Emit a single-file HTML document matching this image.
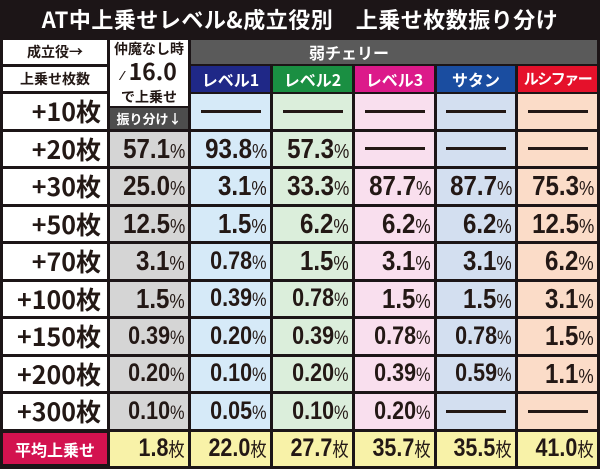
<!DOCTYPE html>
<html><head><meta charset="utf-8"><style>
*{margin:0;padding:0;box-sizing:border-box}
body{width:600px;height:469px;background:#1c1517;position:relative;overflow:hidden;font-family:"Liberation Sans","Noto Sans CJK JP",sans-serif}
.a{position:absolute}
.title{left:0;top:0;width:600px;height:38px;color:#fff;font-weight:bold;font-size:22px;line-height:38px;text-align:center;letter-spacing:0.5px;font-family:"Noto Sans CJK JP",sans-serif}
.c{position:absolute;height:34.5px;display:flex;align-items:center;justify-content:flex-end;padding-right:3px;color:#231815;font-weight:bold}
.lab{background:#fff;font-size:25px;padding-right:6px;font-family:"Noto Sans CJK JP",sans-serif;font-weight:bold}
.n{display:inline-block;font-size:28px;transform:scaleX(0.86);transform-origin:right center;white-space:nowrap}
.n small{font-size:20px;font-weight:normal}
.n.s{font-size:25px}
.n.s small{font-size:19px}
.dash{justify-content:center;padding:0}
.dash i{display:block;width:60px;height:3px;background:#231815}
.g{background:#d5d5d5}.b{background:#d6eaf8}.gr{background:#dbeedb}.p{background:#f9dfee}.lb{background:#d3dff0}.pe{background:#fbdcc8}.y{background:#f8f2a8}
.h{position:absolute;top:66px;height:26px;color:#fff;font-size:16px;font-weight:bold;text-align:center;line-height:26px;font-family:"Noto Sans CJK JP",sans-serif;white-space:nowrap;overflow:hidden}
</style></head><body>
<div class="a title">AT中上乗せレベル&amp;成立役別　上乗せ枚数振り分け</div>

<div class="a" style="left:3px;top:40px;width:104px;height:24px;background:#fff;font-size:14px;font-weight:bold;text-align:center;line-height:24px;font-family:'Noto Sans CJK JP',sans-serif;color:#231815">成立役→</div>
<div class="a" style="left:3px;top:67px;width:104px;height:24px;background:#fff;font-size:14px;font-weight:bold;text-align:center;line-height:24px;font-family:'Noto Sans CJK JP',sans-serif;color:#231815">上乗せ枚数</div>
<div class="a" style="left:110px;top:40px;width:78px;height:66px;background:#fff;color:#231815;text-align:center;font-family:'Noto Sans CJK JP',sans-serif;font-weight:bold">
<div style="font-size:14px;line-height:18px">仲魔なし時</div>
<div style="font-size:23px;line-height:24px"><span style="font-size:13px">⁄</span> 16.0</div>
<div style="font-size:14px;line-height:20px">で上乗せ</div></div>
<div class="a" style="left:110px;top:108px;width:78px;height:21px;background:#4d4d4d;color:#fff;font-size:13px;font-weight:bold;line-height:21px;text-align:center;font-family:'Noto Sans CJK JP',sans-serif">振り分け↓</div>

<div class="a" style="left:191px;top:40px;width:406px;height:24px;background:#5a5a5a;color:#fff;font-size:16px;font-weight:bold;line-height:24px;padding-left:118px;font-family:'Noto Sans CJK JP',sans-serif">弱チェリー</div>
<div class="h" style="left:191px;width:79px;background:#1f2887">レベル1</div>
<div class="h" style="left:273px;width:79px;background:#1a8f42">レベル2</div>
<div class="h" style="left:355px;width:79px;background:#dc1a8a">レベル3</div>
<div class="h" style="left:437px;width:78px;background:#1a4da0">サタン</div>
<div class="h" style="left:518px;width:79px;background:#e5112b;letter-spacing:-1.5px;font-size:15px">ルシファー</div>

<div class="c lab" style="left:3px;top:94px;width:104px">+10枚</div>
<div class="c dash b" style="left:191px;top:94px;width:79px"><i></i></div>
<div class="c dash gr" style="left:273px;top:94px;width:79px"><i></i></div>
<div class="c dash p" style="left:355px;top:94px;width:79px"><i></i></div>
<div class="c dash lb" style="left:437px;top:94px;width:78px"><i></i></div>
<div class="c dash pe" style="left:518px;top:94px;width:79px"><i></i></div>

<div class="c lab" style="left:3px;top:131.5px;width:104px">+20枚</div>
<div class="c g" style="left:110px;top:131.5px;width:78px"><span class="n">57.1<small>%</small></span></div>
<div class="c b" style="left:191px;top:131.5px;width:79px"><span class="n">93.8<small>%</small></span></div>
<div class="c gr" style="left:273px;top:131.5px;width:79px"><span class="n">57.3<small>%</small></span></div>
<div class="c dash p" style="left:355px;top:131.5px;width:79px"><i></i></div>
<div class="c dash lb" style="left:437px;top:131.5px;width:78px"><i></i></div>
<div class="c dash pe" style="left:518px;top:131.5px;width:79px"><i></i></div>

<div class="c lab" style="left:3px;top:169px;width:104px">+30枚</div>
<div class="c g" style="left:110px;top:169px;width:78px"><span class="n">25.0<small>%</small></span></div>
<div class="c b" style="left:191px;top:169px;width:79px"><span class="n">3.1<small>%</small></span></div>
<div class="c gr" style="left:273px;top:169px;width:79px"><span class="n">33.3<small>%</small></span></div>
<div class="c p" style="left:355px;top:169px;width:79px"><span class="n">87.7<small>%</small></span></div>
<div class="c lb" style="left:437px;top:169px;width:78px"><span class="n">87.7<small>%</small></span></div>
<div class="c pe" style="left:518px;top:169px;width:79px"><span class="n">75.3<small>%</small></span></div>

<div class="c lab" style="left:3px;top:206.5px;width:104px">+50枚</div>
<div class="c g" style="left:110px;top:206.5px;width:78px"><span class="n">12.5<small>%</small></span></div>
<div class="c b" style="left:191px;top:206.5px;width:79px"><span class="n">1.5<small>%</small></span></div>
<div class="c gr" style="left:273px;top:206.5px;width:79px"><span class="n">6.2<small>%</small></span></div>
<div class="c p" style="left:355px;top:206.5px;width:79px"><span class="n">6.2<small>%</small></span></div>
<div class="c lb" style="left:437px;top:206.5px;width:78px"><span class="n">6.2<small>%</small></span></div>
<div class="c pe" style="left:518px;top:206.5px;width:79px"><span class="n">12.5<small>%</small></span></div>

<div class="c lab" style="left:3px;top:244px;width:104px">+70枚</div>
<div class="c g" style="left:110px;top:244px;width:78px"><span class="n">3.1<small>%</small></span></div>
<div class="c b" style="left:191px;top:244px;width:79px"><span class="n s">0.78<small>%</small></span></div>
<div class="c gr" style="left:273px;top:244px;width:79px"><span class="n">1.5<small>%</small></span></div>
<div class="c p" style="left:355px;top:244px;width:79px"><span class="n">3.1<small>%</small></span></div>
<div class="c lb" style="left:437px;top:244px;width:78px"><span class="n">3.1<small>%</small></span></div>
<div class="c pe" style="left:518px;top:244px;width:79px"><span class="n">6.2<small>%</small></span></div>

<div class="c lab" style="left:3px;top:281.5px;width:104px">+100枚</div>
<div class="c g" style="left:110px;top:281.5px;width:78px"><span class="n">1.5<small>%</small></span></div>
<div class="c b" style="left:191px;top:281.5px;width:79px"><span class="n s">0.39<small>%</small></span></div>
<div class="c gr" style="left:273px;top:281.5px;width:79px"><span class="n s">0.78<small>%</small></span></div>
<div class="c p" style="left:355px;top:281.5px;width:79px"><span class="n">1.5<small>%</small></span></div>
<div class="c lb" style="left:437px;top:281.5px;width:78px"><span class="n">1.5<small>%</small></span></div>
<div class="c pe" style="left:518px;top:281.5px;width:79px"><span class="n">3.1<small>%</small></span></div>

<div class="c lab" style="left:3px;top:319px;width:104px">+150枚</div>
<div class="c g" style="left:110px;top:319px;width:78px"><span class="n s">0.39<small>%</small></span></div>
<div class="c b" style="left:191px;top:319px;width:79px"><span class="n s">0.20<small>%</small></span></div>
<div class="c gr" style="left:273px;top:319px;width:79px"><span class="n s">0.39<small>%</small></span></div>
<div class="c p" style="left:355px;top:319px;width:79px"><span class="n s">0.78<small>%</small></span></div>
<div class="c lb" style="left:437px;top:319px;width:78px"><span class="n s">0.78<small>%</small></span></div>
<div class="c pe" style="left:518px;top:319px;width:79px"><span class="n">1.5<small>%</small></span></div>

<div class="c lab" style="left:3px;top:356.5px;width:104px">+200枚</div>
<div class="c g" style="left:110px;top:356.5px;width:78px"><span class="n s">0.20<small>%</small></span></div>
<div class="c b" style="left:191px;top:356.5px;width:79px"><span class="n s">0.10<small>%</small></span></div>
<div class="c gr" style="left:273px;top:356.5px;width:79px"><span class="n s">0.20<small>%</small></span></div>
<div class="c p" style="left:355px;top:356.5px;width:79px"><span class="n s">0.39<small>%</small></span></div>
<div class="c lb" style="left:437px;top:356.5px;width:78px"><span class="n s">0.59<small>%</small></span></div>
<div class="c pe" style="left:518px;top:356.5px;width:79px"><span class="n">1.1<small>%</small></span></div>

<div class="c lab" style="left:3px;top:394px;width:104px">+300枚</div>
<div class="c g" style="left:110px;top:394px;width:78px"><span class="n s">0.10<small>%</small></span></div>
<div class="c b" style="left:191px;top:394px;width:79px"><span class="n s">0.05<small>%</small></span></div>
<div class="c gr" style="left:273px;top:394px;width:79px"><span class="n s">0.10<small>%</small></span></div>
<div class="c p" style="left:355px;top:394px;width:79px"><span class="n s">0.20<small>%</small></span></div>
<div class="c dash lb" style="left:437px;top:394px;width:78px"><i></i></div>
<div class="c dash pe" style="left:518px;top:394px;width:79px"><i></i></div>

<div class="c" style="left:3px;top:433px;width:104px;height:31px;background:#d3124f;color:#fff;justify-content:center;padding:0;font-size:16px;font-family:'Noto Sans CJK JP',sans-serif">平均上乗せ</div>
<div class="c y" style="left:110px;top:431.5px;width:78px"><span class="n s">1.8<small>枚</small></span></div>
<div class="c y" style="left:191px;top:431.5px;width:79px"><span class="n s">22.0<small>枚</small></span></div>
<div class="c y" style="left:273px;top:431.5px;width:79px"><span class="n s">27.7<small>枚</small></span></div>
<div class="c y" style="left:355px;top:431.5px;width:79px"><span class="n s">35.7<small>枚</small></span></div>
<div class="c y" style="left:437px;top:431.5px;width:78px"><span class="n s">35.5<small>枚</small></span></div>
<div class="c y" style="left:518px;top:431.5px;width:79px"><span class="n s">41.0<small>枚</small></span></div>
</body></html>
